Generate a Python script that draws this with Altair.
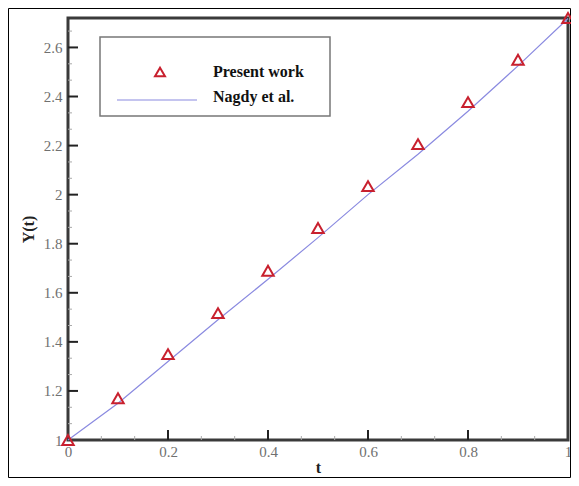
import altair as alt
import pandas as pd

# ---- data ----
t_vals = [0.0, 0.1, 0.2, 0.3, 0.4, 0.5, 0.6, 0.7, 0.8, 0.9, 1.0]
present_work = [1.0, 1.17, 1.35, 1.517, 1.69, 1.864, 2.035, 2.206, 2.377, 2.55, 2.72]
nagdy = [1.0, 1.15, 1.32, 1.49, 1.655, 1.825, 2.0, 2.165, 2.34, 2.525, 2.718]

x_ticks = [0, 0.2, 0.4, 0.6, 0.8, 1]
y_ticks = [1, 1.2, 1.4, 1.6, 1.8, 2, 2.2, 2.4, 2.6]
x_major_inner = [0.2, 0.4, 0.6, 0.8]
y_major_inner = [1.2, 1.4, 1.6, 1.8, 2.0, 2.2, 2.4, 2.6]
x_minor = [a + d for a in [0, 0.2, 0.4, 0.6, 0.8] for d in (0.2 / 3, 0.4 / 3)]
y_minor = [a + d for a in [1, 1.2, 1.4, 1.6, 1.8, 2.0, 2.2, 2.4, 2.6] for d in (0.2 / 3, 0.4 / 3)]
y_minor = [v for v in y_minor if v < 2.72]

legend_labels = ["Present work", "Nagdy et al."]

W, H = 500, 422
FONT = "Liberation Serif"
RED = "#c8202e"
BLUE = "#8a8ae0"

xdom = [0, 1]
ydom = [1, 2.72]

pts = pd.DataFrame({"t": t_vals, "Y": present_work})
ln = pd.DataFrame({"t": t_vals, "Y": nagdy})

x_enc = alt.X("t:Q", scale=alt.Scale(domain=xdom, nice=False, zero=False),
              axis=alt.Axis(values=x_ticks, format="~g", tickSize=0, domain=False, grid=False,
                            labelFont=FONT, labelFontSize=15, labelColor="#707070", labelPadding=4,
                            title="t", titleFont=FONT, titleFontSize=16, titleFontWeight="bold",
                            titleColor="#222222", titleX=250, titleY=27, titleBaseline="middle",
                            labelFlush=False))
y_enc = alt.Y("Y:Q", scale=alt.Scale(domain=ydom, nice=False, zero=False),
              axis=alt.Axis(values=y_ticks, format="~g", tickSize=0, domain=False, grid=False,
                            labelFont=FONT, labelFontSize=15, labelColor="#707070", labelPadding=6,
                            title="Y(t)", titleFont=FONT, titleFontSize=16, titleFontWeight="bold",
                            titleColor="#222222", titleX=-40, titleY=211, titleBaseline="middle",
                            labelFlush=False))

xs = alt.Scale(domain=xdom, nice=False, zero=False)
ys = alt.Scale(domain=ydom, nice=False, zero=False)

line = alt.Chart(ln).mark_line(color=BLUE, strokeWidth=1.2).encode(x=x_enc, y=y_enc)
points = alt.Chart(pts).mark_point(shape="triangle-up", size=130, filled=False,
                                   stroke=RED, strokeWidth=2, opacity=1).encode(
    x=alt.X("t:Q", scale=xs), y=alt.Y("Y:Q", scale=ys))

# inward ticks
ymaj = alt.Chart(pd.DataFrame({"v": y_major_inner})).mark_rule(color="#222222", strokeWidth=2).encode(
    y=alt.Y("v:Q", scale=ys), x=alt.value(0), x2=alt.value(10))
xmaj = alt.Chart(pd.DataFrame({"v": x_major_inner})).mark_rule(color="#222222", strokeWidth=2).encode(
    x=alt.X("v:Q", scale=xs), y=alt.value(H), y2=alt.value(H - 10))
ymin = alt.Chart(pd.DataFrame({"v": y_minor})).mark_rule(color="#aaaaaa", strokeWidth=1).encode(
    y=alt.Y("v:Q", scale=ys), x=alt.value(0), x2=alt.value(4))
xmin = alt.Chart(pd.DataFrame({"v": x_minor})).mark_rule(color="#aaaaaa", strokeWidth=1).encode(
    x=alt.X("v:Q", scale=xs), y=alt.value(H), y2=alt.value(H - 4))

one = pd.DataFrame({"k": [0]})
outer = alt.Chart(one).mark_rect(filled=False, stroke="black", strokeWidth=1).encode(
    x=alt.value(-59.5), x2=alt.value(W + 2.5), y=alt.value(-9.5), y2=alt.value(H + 37.5))

# legend
leg_box = alt.Chart(one).mark_rect(fill="white", stroke="#777777", strokeWidth=1.5).encode(
    x=alt.value(32), x2=alt.value(262), y=alt.value(19), y2=alt.value(98))
leg_tri = alt.Chart(one).mark_point(shape="triangle-up", size=100, filled=False,
                                    stroke=RED, strokeWidth=2, opacity=1).encode(
    x=alt.value(92), y=alt.value(54))
leg_line = alt.Chart(one).mark_rule(color=BLUE, strokeWidth=1.2).encode(
    x=alt.value(49), x2=alt.value(129), y=alt.value(82))
leg_t1 = alt.Chart(pd.DataFrame({"lab": [legend_labels[0]]})).mark_text(
    font=FONT, fontSize=16, fontWeight="bold", color="#111111", align="left", baseline="middle").encode(
    x=alt.value(145), y=alt.value(54), text="lab:N")
leg_t2 = alt.Chart(pd.DataFrame({"lab": [legend_labels[1]]})).mark_text(
    font=FONT, fontSize=16, fontWeight="bold", color="#111111", align="left", baseline="middle").encode(
    x=alt.value(145), y=alt.value(79), text="lab:N")

chart = alt.layer(
    outer, line, ymin, xmin, ymaj, xmaj, points,
    leg_box, leg_tri, leg_line, leg_t1, leg_t2
).properties(
    width=W, height=H,
    autosize=alt.AutoSizeParams(type="none"),
    padding={"left": 60, "top": 10, "right": 3, "bottom": 38},
    background="white",
).configure_view(stroke="#3a3a3a", strokeWidth=3)

chart.save("out.html", embed_options={"renderer": "svg", "actions": False})
